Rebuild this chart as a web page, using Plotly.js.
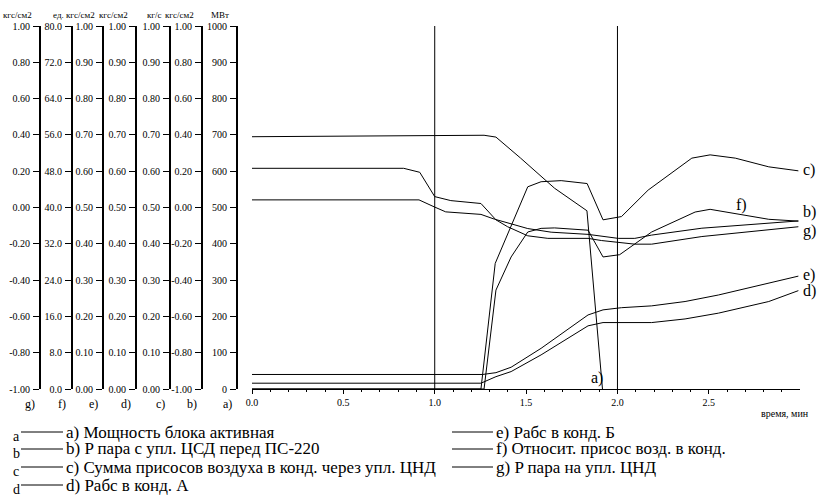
<!DOCTYPE html>
<html><head><meta charset="utf-8">
<script src="https://cdn.plot.ly/plotly-3.0.1.min.js"></script>
<style>html,body{margin:0;padding:0;background:#fff}</style>
</head><body><div id="chart" style="width:817px;height:497px"></div>
<script>
// ---- data (each series in its own units) ----
const seriesKeys = ['a','b','c','d','e','f','g'];
const seriesNames = [
  'a) Мощность блока активная',
  'b) P пара с упл. ЦСД перед ПС-220',
  'c) Сумма присосов воздуха в конд. через упл. ЦНД',
  'd) Рабс в конд. А',
  'e) Рабс в конд. Б',
  'f) Относит. присос возд. в конд.',
  'g) P пара на упл. ЦНД'
];
const axisUnits = ['МВт','кгс/см2','кг/с','кгс/см2','кгс/см2','ед.','кгс/см2'];

// a) МВт
const aTime  = [0, 1.0, 1.27, 1.335, 1.47, 1.656, 1.833, 1.918];
const aValue = [695, 698, 699, 694, 636, 553, 491, 0];
// b) кгс/см2
const bTime  = [0, 0.914, 0.996, 1.06, 1.253, 1.326, 1.418, 1.509, 1.637, 1.839, 2.004, 2.095, 2.187, 2.462, 2.99];
const bValue = [0.042, 0.042, 0.004, -0.024, -0.038, -0.064, -0.090, -0.116, -0.136, -0.148, -0.170, -0.170, -0.152, -0.114, -0.074];
// c) кг/с
const cTime  = [0, 1.253, 1.331, 1.509, 1.582, 1.692, 1.834, 1.921, 2.022, 2.168, 2.407, 2.507, 2.645, 2.828, 2.99];
const cValue = [0, 0, 0.346, 0.557, 0.571, 0.574, 0.566, 0.466, 0.475, 0.548, 0.636, 0.645, 0.636, 0.612, 0.601];
// d) кгс/см2
const dTime  = [0, 1.253, 1.335, 1.418, 1.582, 1.839, 1.921, 2.022, 2.187, 2.37, 2.553, 2.828, 2.99];
const dValue = [0.016, 0.016, 0.034, 0.048, 0.094, 0.174, 0.183, 0.183, 0.183, 0.193, 0.209, 0.241, 0.271];
// e) кгс/см2
const eTime  = [0, 1.262, 1.335, 1.418, 1.582, 1.839, 1.921, 2.022, 2.187, 2.37, 2.553, 2.828, 2.99];
const eValue = [0.040, 0.040, 0.045, 0.060, 0.112, 0.204, 0.218, 0.224, 0.229, 0.241, 0.259, 0.291, 0.311];
// f) ед.
const fTime  = [0, 1.27, 1.335, 1.418, 1.509, 1.582, 1.656, 1.839, 1.921, 2.012, 2.187, 2.425, 2.507, 2.645, 2.828, 2.99];
const fValue = [0, 0, 21.8, 29.1, 34.6, 35.4, 35.5, 35.0, 29.1, 29.6, 34.6, 39.0, 39.6, 38.7, 37.4, 37.0];
// g) кгс/см2
const gTime  = [0, 0.83, 0.918, 1.0, 1.088, 1.253, 1.335, 1.399, 1.509, 1.619, 1.839, 1.912, 2.095, 2.187, 2.462, 2.99];
const gValue = [0.216, 0.216, 0.194, 0.060, 0.038, 0.022, -0.068, -0.106, -0.156, -0.170, -0.170, -0.182, -0.202, -0.202, -0.160, -0.106];

// tick values per axis
const ticksA = [0,100,200,300,400,500,600,700,800,900,1000];
const ticksPM1 = [-1,-0.8,-0.6,-0.4,-0.2,0,0.2,0.4,0.6,0.8,1];
const ticks01 = [0,0.1,0.2,0.3,0.4,0.5,0.6,0.7,0.8,0.9,1];
const ticksF = [0,8,16,24,32,40,48,56,64,72,80];
const xTickVals = [0,0.5,1.0,1.5,2.0,2.5];
const eventTimes = [1.0, 2.0];

// ---- layout helpers ----
const PW = 800, TOP = 26, BOT = 389;
const px = v => v / PW;
const py = v => (BOT - v) / (BOT - TOP);
const FONT = '"Liberation Serif", "DejaVu Serif", serif';

const times = [aTime,bTime,cTime,dTime,eTime,fTime,gTime];
const values = [aValue,bValue,cValue,dValue,eValue,fValue,gValue];
const yRefs = ['y','y2','y3','y4','y5','y6','y7'];

const traces = seriesKeys.map((k,i)=>({
  type:'scatter', mode:'lines', name: seriesNames[i],
  x: times[i], y: values[i], yaxis: yRefs[i], xaxis:'x',
  line:{color:'#000', width:1}, showlegend:false, hoverinfo:'skip'
}));

// axis x-positions (px) for a..g
const axisPx = [236, 201, 169, 135, 102, 71, 39];
const axisRanges = [[0,1000],[-1,1],[0,1],[0,1],[0,1],[0,80],[-1,1]];
const axisTicks = [ticksA, ticksPM1, ticks01, ticks01, ticks01, ticksF, ticksPM1];
const axisFmt = [v=>String(v), v=>v.toFixed(2), v=>v.toFixed(2), v=>v.toFixed(2), v=>v.toFixed(2), v=>v.toFixed(1), v=>v.toFixed(2)];

const layout = {
  width:817, height:497,
  margin:{l:0, r:17, t:TOP, b:497-BOT},
  paper_bgcolor:'#fff', plot_bgcolor:'#fff',
  font:{family:FONT, color:'#000', size:10},
  showlegend:false,
  xaxis:{
    domain:[px(252), 1], range:[0,2.999], anchor:'y',
    showline:true, linecolor:'#000', linewidth:1,
    ticks:'outside', ticklen:4, tickcolor:'#000', tickwidth:1,
    tickmode:'array', tickvals:xTickVals, ticktext:xTickVals.map(v=>v.toFixed(1)),
    minor:{tickmode:'linear', tick0:0, dtick:0.1, ticks:'outside', ticklen:2, tickcolor:'#000'},
    showgrid:false, zeroline:false, tickfont:{size:10, family:FONT, color:'#000'}
  },
  shapes:[], annotations:[]
};

seriesKeys.forEach((k,i)=>{
  const name = i===0 ? 'yaxis' : 'yaxis'+(i+1);
  const ax = {
    domain:[0,1], range:axisRanges[i], anchor:'free', position:px(axisPx[i]), side:'left',
    showline:true, linecolor:'#000', linewidth:1.5,
    ticks:'outside', ticklen:6, tickcolor:'#000', tickwidth:1,
    tickmode:'array', tickvals:axisTicks[i], ticktext:axisTicks[i].map(axisFmt[i]),
    showgrid:false, zeroline:false, tickfont:{size:10, family:FONT, color:'#000'},
    ticklabelstandoff:1
  };
  if(i>0) ax.overlaying='y';
  layout[name] = ax;
  // unit label on top
  layout.annotations.push({xref:'paper', yref:'paper', x:px(axisPx[i]-5), y:py(15), text:axisUnits[i],
    showarrow:false, xanchor:'right', yanchor:'middle', font:{size:9, family:FONT}});
  // letter label at bottom
  layout.annotations.push({xref:'paper', yref:'paper', x:px(axisPx[i]-9), y:py(404), text:k+')',
    showarrow:false, xanchor:'center', yanchor:'middle', font:{size:12, family:FONT}});
});

// event vertical lines
eventTimes.forEach(t=>layout.shapes.push({type:'line', xref:'x', yref:'paper', x0:t, x1:t, y0:0, y1:1,
  line:{color:'#000', width:1}}));

// curve labels (pixel positions)
const curveLabels = [
  {t:'a)', x:597, y:378, anchor:'center'},
  {t:'c)', x:801, y:170, anchor:'left'},
  {t:'b)', x:801, y:212, anchor:'left'},
  {t:'g)', x:801, y:231, anchor:'left'},
  {t:'e)', x:801, y:275, anchor:'left'},
  {t:'d)', x:801, y:291, anchor:'left'},
  {t:'f)', x:741, y:205, anchor:'center'}
];
curveLabels.forEach(c=>layout.annotations.push({xref:'paper', yref:'paper', x:px(c.x), y:py(c.y), text:c.t,
  showarrow:false, xanchor:c.anchor, yanchor:'middle', font:{size:16, family:FONT}}));

// x-axis title
layout.annotations.push({xref:'paper', yref:'paper', x:px(811), y:py(414), text:'время, мин',
  showarrow:false, xanchor:'right', yanchor:'middle', font:{size:10, family:FONT}});

// bottom key
const rowsY = [432, 449, 467, 485];
seriesKeys.forEach((k,j)=>{
  const col = j<4 ? 0 : 1;
  const row = j<4 ? j : j-4;
  const lineX0 = col===0 ? 21 : 452;
  const lineX1 = col===0 ? 63 : 493;
  const yy = rowsY[row];
  layout.shapes.push({type:'line', xref:'paper', yref:'paper', x0:px(lineX0), x1:px(lineX1), y0:py(yy), y1:py(yy),
    line:{color:'#000', width:1}});
  layout.annotations.push({xref:'paper', yref:'paper', x:px(lineX1+1), y:py(yy), text:seriesNames[j],
    showarrow:false, xanchor:'left', yanchor:'middle', font:{size:17, family:FONT}});
  if(col===0){
    layout.annotations.push({xref:'paper', yref:'paper', x:px(16), y:py(yy+4), text:k,
      showarrow:false, xanchor:'center', yanchor:'middle', font:{size:14, family:FONT}});
  }
});

Plotly.newPlot('chart', traces, layout, {staticPlot:true, displayModeBar:false});
</script></body></html>
